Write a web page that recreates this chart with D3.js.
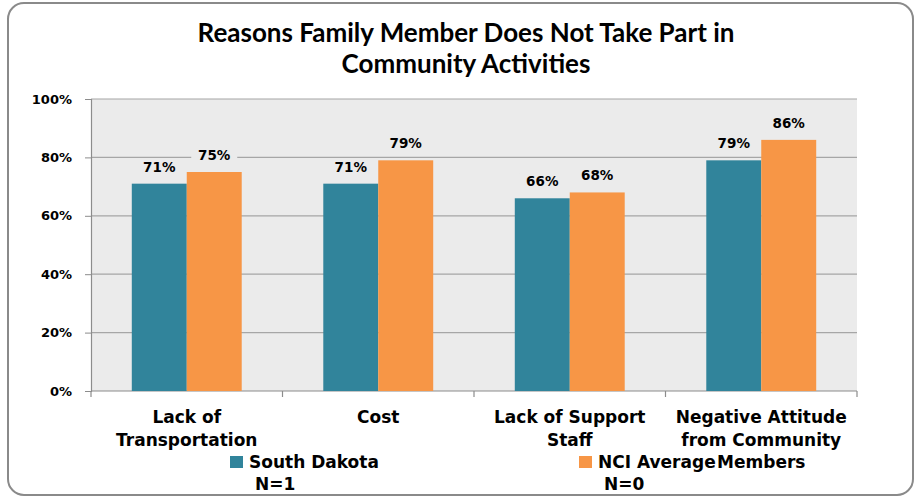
<!DOCTYPE html>
<html><head><meta charset="utf-8">
<script src="https://cdn.jsdelivr.net/npm/d3@7"></script>
<style>body{margin:0;background:#fff}svg{display:block}</style>
</head><body>
<svg id="c" width="921" height="498"></svg>
<script>
const categories = [["Lack of","Transportation"],["Cost"],["Lack of Support","Staff"],["Negative Attitude","from Community","Members"]];
const seriesNames = ["South Dakota","NCI Average"];
const seriesN = ["N=1","N=0"];
const southDakota = [71,71,66,79];
const nciAverage = [75,79,68,86];
const yTicks = [0,20,40,60,80,100];
const titleLines = ["Reasons Family Member Does Not Take Part in","Community Activities"];
const colors = ["#31849B","#F79646"];

const svg = d3.select("#c");
svg.append("rect").attr("x",8).attr("y",3).attr("width",905).attr("height",492)
  .attr("rx",16).attr("fill","#fff").attr("stroke","#8a8a8a").attr("stroke-width",2);

const L=91,R=857,T=99,B=391;
const x0 = d3.scaleBand().domain(d3.range(categories.length)).range([L,R]).paddingInner(0.426).paddingOuter(0.213);
const x1 = d3.scaleBand().domain([0,1]).range([0,x0.bandwidth()]);
const y = d3.scaleLinear().domain([0,100]).range([B,T]);

// title
const tg = svg.append("g");
titleLines.forEach((t,i)=>{
  tg.append("text").attr("x",466).attr("y",41.5+i*31).attr("text-anchor","middle")
    .attr("font-family","Lato, 'Open Sans', sans-serif").attr("font-weight","bold").attr("font-size",23)
    .attr("fill","#000").text(t);
});
const w0 = tg.select("text").node().getComputedTextLength();
tg.selectAll("text").attr("font-size",Math.min(23*592/w0,26));

// plot bg
svg.append("rect").attr("x",L).attr("y",T).attr("width",R-L).attr("height",B-T).attr("fill","#ebebeb");
// gridlines
svg.append("g").selectAll("line").data(yTicks.filter(d=>d>0)).join("line")
  .attr("x1",L).attr("x2",R).attr("y1",d=>y(d)).attr("y2",d=>y(d))
  .attr("stroke","#a6a6a6").attr("stroke-width",1.2);

// y axis
const ya = svg.append("g").attr("transform",`translate(${L},0)`)
  .call(d3.axisLeft(y).tickValues(yTicks).tickFormat(d=>d+"%").tickSize(6).tickPadding(13));
ya.select(".domain").attr("stroke","#8c8c8c").attr("stroke-width",1.2);
ya.selectAll(".tick line").attr("stroke","#8c8c8c");
ya.selectAll("text").attr("font-family","'DejaVu Sans', sans-serif").attr("font-weight","bold").attr("font-size",13).attr("fill","#000");

// x axis
const bounds = d3.range(categories.length+1).map(i=>L+i*x0.step());
svg.append("line").attr("x1",L).attr("x2",R).attr("y1",B).attr("y2",B).attr("stroke","#8c8c8c").attr("stroke-width",1.2);
svg.append("g").selectAll("line").data(bounds).join("line")
  .attr("x1",d=>d).attr("x2",d=>d).attr("y1",B).attr("y2",B+6).attr("stroke","#8c8c8c").attr("stroke-width",1.2);

// bars
const series = [southDakota,nciAverage];
const bars = svg.append("g");
const labels = svg.append("g");
series.forEach((vals,s)=>{
  vals.forEach((v,i)=>{
    const bx = x0(i)+x1(s);
    bars.append("rect").attr("x",bx).attr("y",y(v)).attr("width",x1.bandwidth()).attr("height",B-y(v))
      .attr("fill",colors[s]);
    const cx = bx+x1.bandwidth()/2;
    labels.append("rect").attr("x",cx-23).attr("y",y(v)-25).attr("width",46).attr("height",18).attr("fill","#ebebeb");
    labels.append("text").attr("x",cx).attr("y",y(v)-12).attr("text-anchor","middle")
      .attr("font-family","'DejaVu Sans', sans-serif").attr("font-weight","bold").attr("font-size",13.5)
      .attr("fill","#000").text(v+"%");
  });
});

// category labels
const cl = svg.append("g");
categories.forEach((lines,i)=>{
  lines.forEach((ln,j)=>{
    cl.append("text").attr("x",x0(i)+x0.bandwidth()/2).attr("y",423+j*22.5).attr("text-anchor","middle")
      .attr("font-family","'DejaVu Sans', sans-serif").attr("font-weight","bold").attr("font-size",17)
      .attr("fill","#000").text(ln);
  });
});

// legend
const lg = svg.append("g");
const legX = [230,579];
seriesNames.forEach((n,s)=>{
  lg.append("rect").attr("x",legX[s]).attr("y",456).attr("width",13).attr("height",12).attr("fill",colors[s]);
  lg.append("text").attr("x",legX[s]+19).attr("y",468)
    .attr("font-family","'DejaVu Sans', sans-serif").attr("font-weight","bold").attr("font-size",17).attr("fill","#000").text(n);
  lg.append("text").attr("x",legX[s]+25).attr("y",490)
    .attr("font-family","'DejaVu Sans', sans-serif").attr("font-weight","bold").attr("font-size",17).attr("fill","#000").text(seriesN[s]);
});
</script>
</body></html>
